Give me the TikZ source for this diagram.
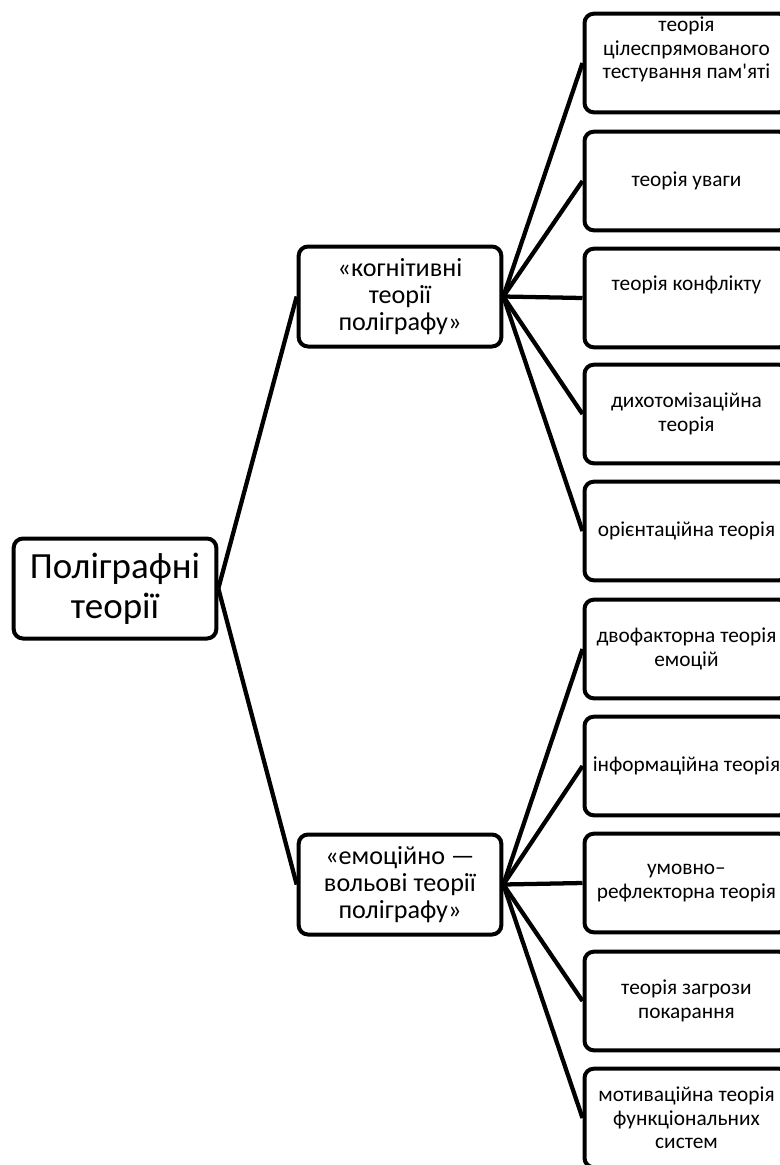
\documentclass[tikz,border=0pt]{standalone}
\usepackage{fontspec}
\setmainfont{Carlito}[Ligatures=TeXOff]
\begin{document}
\begin{tikzpicture}[x=0.75pt,y=-0.75pt,
  box/.style={draw=black,line width=3pt,rounded corners=7pt,fill=white,align=center,inner sep=0pt},
  rootbox/.style={box,minimum width=152pt,minimum height=75pt,font=\fontsize{27.7}{30}\selectfont},
  midbox/.style={box,minimum width=152pt,minimum height=75pt,font=\fontsize{19.6}{20.5}\selectfont},
  leafbox/.style={box,minimum width=153pt,minimum height=74pt,font=\fontsize{16}{17.7}\selectfont},
  conn/.style={line width=3.2pt}]
\useasboundingbox (0,0) rectangle (780,1165);
\node[rootbox] (root) at (115,588.5) {Поліграфні\\теорії};
\node[midbox] (m1) at (400,296.5) {«когнітивні\\теорії\\поліграфу»};
\node[midbox] (m2) at (400,884.5) {«емоційно —\\вольові теорії\\поліграфу»};
\node[leafbox] (l1) at (686.5,63) {теорія\\цілеспрямованого\\тестування пам'яті\\\strut};
\node[leafbox] (l2) at (686.5,181) {теорія уваги};
\node[leafbox] (l3) at (686.5,298) {теорія конфлікту\\\strut};
\node[leafbox] (l4) at (686.5,414) {дихотомізаційна\\теорія};
\node[leafbox] (l5) at (686.5,531) {орієнтаційна теорія};
\node[leafbox] (l6) at (686.5,649) {двофакторна теорія\\емоцій};
\node[leafbox] (l7) at (686.5,766) {інформаційна теорія};
\node[leafbox] (l8) at (686.5,883) {умовно–\\рефлекторна теорія};
\node[leafbox] (l9) at (686.5,1001) {теорія загрози\\покарання};
\node[leafbox] (l10) at (686.5,1118) {мотиваційна теорія\\функціональних\\систем};
\draw[conn] (root.east) -- (m1.west);
\draw[conn] (root.east) -- (m2.west);
\foreach \i in {1,...,5} {\draw[conn] (m1.east) -- (l\i.west);}
\foreach \i in {6,...,10} {\draw[conn] (m2.east) -- (l\i.west);}
\end{tikzpicture}
\end{document}
